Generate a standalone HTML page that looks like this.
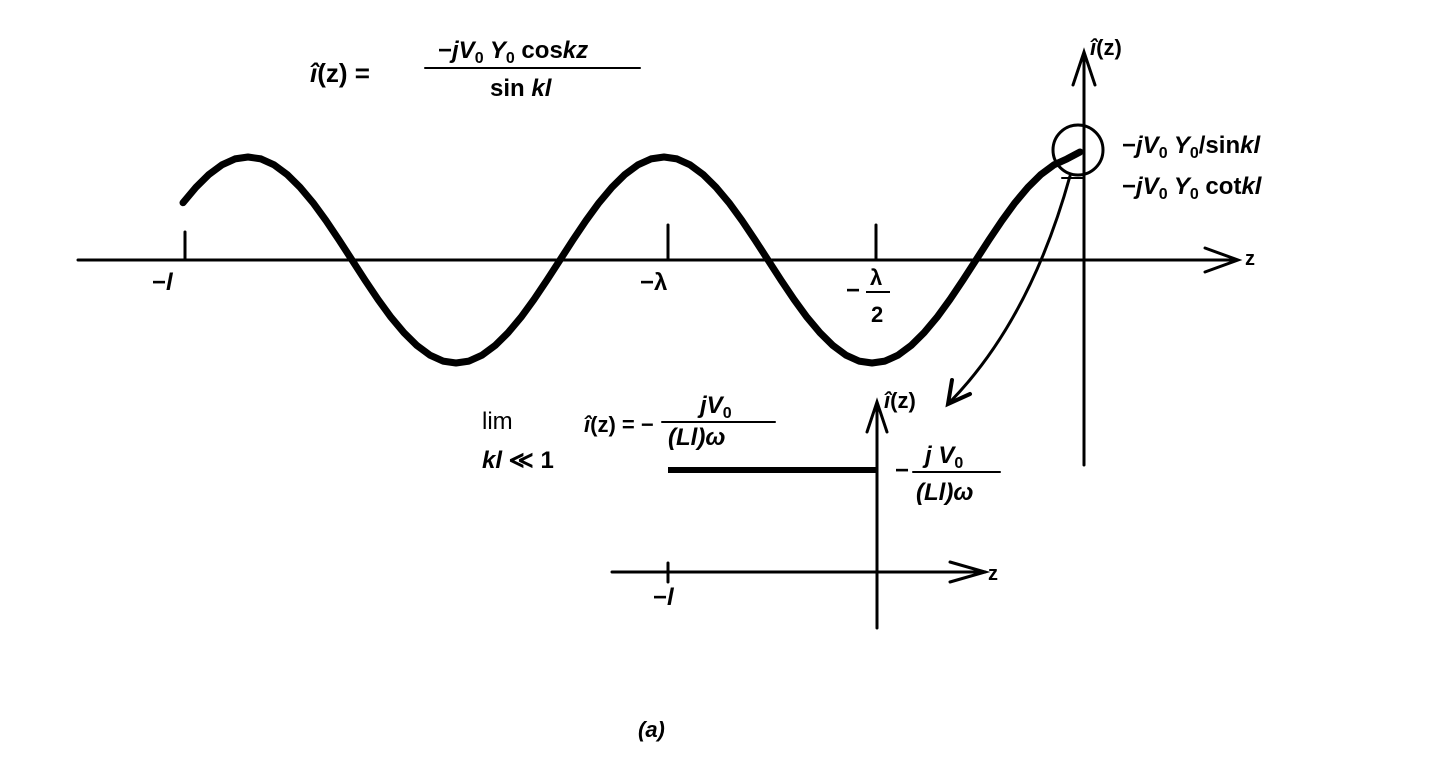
<!DOCTYPE html>
<html><head><meta charset="utf-8"><style>
html,body{margin:0;padding:0;background:#fff;}
svg{display:block}
text{font-family:"Liberation Sans",sans-serif;font-weight:bold;fill:#000;}
.i{font-style:italic}
</style></head><body>
<svg width="1444" height="774" viewBox="0 0 1444 774" xmlns="http://www.w3.org/2000/svg">
<g stroke="#000" fill="none" stroke-linecap="round">
<line x1="78" y1="260" x2="1235" y2="260" stroke-width="3"/>
<polyline points="1205,248 1238,260 1205,272" stroke-width="3"/>
<line x1="1084" y1="465" x2="1084" y2="55" stroke-width="3"/>
<polyline points="1073,85 1084,52 1095,85" stroke-width="3"/>
<line x1="185" y1="232" x2="185" y2="260" stroke-width="3"/>
<line x1="668" y1="225" x2="668" y2="260" stroke-width="3"/>
<line x1="876" y1="225" x2="876" y2="260" stroke-width="3"/>
<line x1="1062" y1="178" x2="1084" y2="178" stroke-width="2"/>
<circle cx="1078" cy="150" r="25" stroke-width="3"/>
<polyline stroke-width="7" stroke-linejoin="round" points="183,202.7 196,187.2 209,174.4 222,164.8 235,158.9 248,157 261,158.9 274,164.8 287,174.4 300,187.2 313,202.7 326,220.6 339,239.9 352,260 365,280.1 378,299.4 391,317.3 404,332.8 417,345.6 430,355.2 443,361.1 456,363 469,361.1 482,355.2 495,345.6 508,332.8 521,317.3 534,299.4 547,280.1 560,260 573,239.9 586,220.6 599,202.7 612,187.2 625,174.4 638,164.8 651,158.9 664,157 677,158.9 690,164.8 703,174.4 716,187.2 729,202.7 742,220.6 755,239.9 768,260 781,280.1 794,299.4 807,317.3 820,332.8 833,345.6 846,355.2 859,361.1 872,363 885,361.1 898,355.2 911,345.6 924,332.8 937,317.3 950,299.4 963,280.1 976,260 989,239.9 1002,220.6 1015,202.7 1028,187.2 1041,174.4 1054,164.8 1067,158.9 1080,152"/>
<path d="M1070,176 Q1030,320 950,402" stroke-width="3"/>
<polyline points="952,380 948,404 970,394" stroke-width="4"/>
<line x1="612" y1="572" x2="985" y2="572" stroke-width="3"/>
<polyline points="950,562 985,572 950,582" stroke-width="3"/>
<line x1="877" y1="628" x2="877" y2="405" stroke-width="3"/>
<polyline points="867,432 877,402 887,432" stroke-width="3"/>
<line x1="668" y1="563" x2="668" y2="582" stroke-width="3"/>
<line x1="668" y1="470" x2="877" y2="470" stroke-width="6" stroke-linecap="butt"/>
<line x1="425" y1="68" x2="640" y2="68" stroke-width="2"/>
<line x1="662" y1="422" x2="775" y2="422" stroke-width="2"/>
<line x1="913" y1="472" x2="1000" y2="472" stroke-width="2"/>
</g>
<text x="310" y="82" font-size="26"><tspan class="i">î</tspan>(z)  =</text>
<text x="438" y="58" font-size="24">−<tspan class="i">jV</tspan><tspan font-size="16" dy="5">0</tspan><tspan class="i" dy="-5"> Y</tspan><tspan font-size="16" dy="5">0</tspan><tspan dy="-5"> cos</tspan><tspan class="i">kz</tspan></text>
<text x="490" y="96" font-size="24">sin <tspan class="i">kl</tspan></text>
<text x="1090" y="55" font-size="22"><tspan class="i">î</tspan>(z)</text>
<text x="1122" y="153" font-size="24">−<tspan class="i">jV</tspan><tspan font-size="16" dy="5">0</tspan><tspan class="i" dy="-5"> Y</tspan><tspan font-size="16" dy="5">0</tspan><tspan dy="-5">/sin</tspan><tspan class="i">kl</tspan></text>
<text x="1122" y="194" font-size="24">−<tspan class="i">jV</tspan><tspan font-size="16" dy="5">0</tspan><tspan class="i" dy="-5"> Y</tspan><tspan font-size="16" dy="5">0</tspan><tspan dy="-5"> cot</tspan><tspan class="i">kl</tspan></text>
<text x="1245" y="265" font-size="20">z</text>
<text x="152" y="290" font-size="24">−<tspan class="i">l</tspan></text>
<text x="640" y="290" font-size="24">−λ</text>
<text x="846" y="298" font-size="24">−</text>
<line x1="866" y1="292" x2="890" y2="292" stroke="#000" stroke-width="2"/>
<text x="870" y="285" font-size="22">λ</text>
<text x="871" y="322" font-size="22">2</text>
<text x="482" y="429" font-size="24" style="font-weight:normal">lim</text>
<text x="482" y="468" font-size="24"><tspan class="i">kl</tspan> ≪ 1</text>
<text x="584" y="432" font-size="22"><tspan class="i">î</tspan>(z) = −</text>
<text x="700" y="413" font-size="24" class="i">jV<tspan font-size="16" dy="5" style="font-style:normal">0</tspan></text>
<text x="668" y="445" font-size="24" class="i">(Ll)ω</text>
<text x="884" y="408" font-size="22"><tspan class="i">î</tspan>(z)</text>
<text x="895" y="478" font-size="24">−</text>
<text x="925" y="463" font-size="24" class="i">j V<tspan font-size="16" dy="5" style="font-style:normal">0</tspan></text>
<text x="916" y="500" font-size="24" class="i">(Ll)ω</text>
<text x="988" y="580" font-size="20">z</text>
<text x="653" y="605" font-size="24">−<tspan class="i">l</tspan></text>
<text x="638" y="737" font-size="22" class="i">(a)</text>
</svg>
</body></html>
